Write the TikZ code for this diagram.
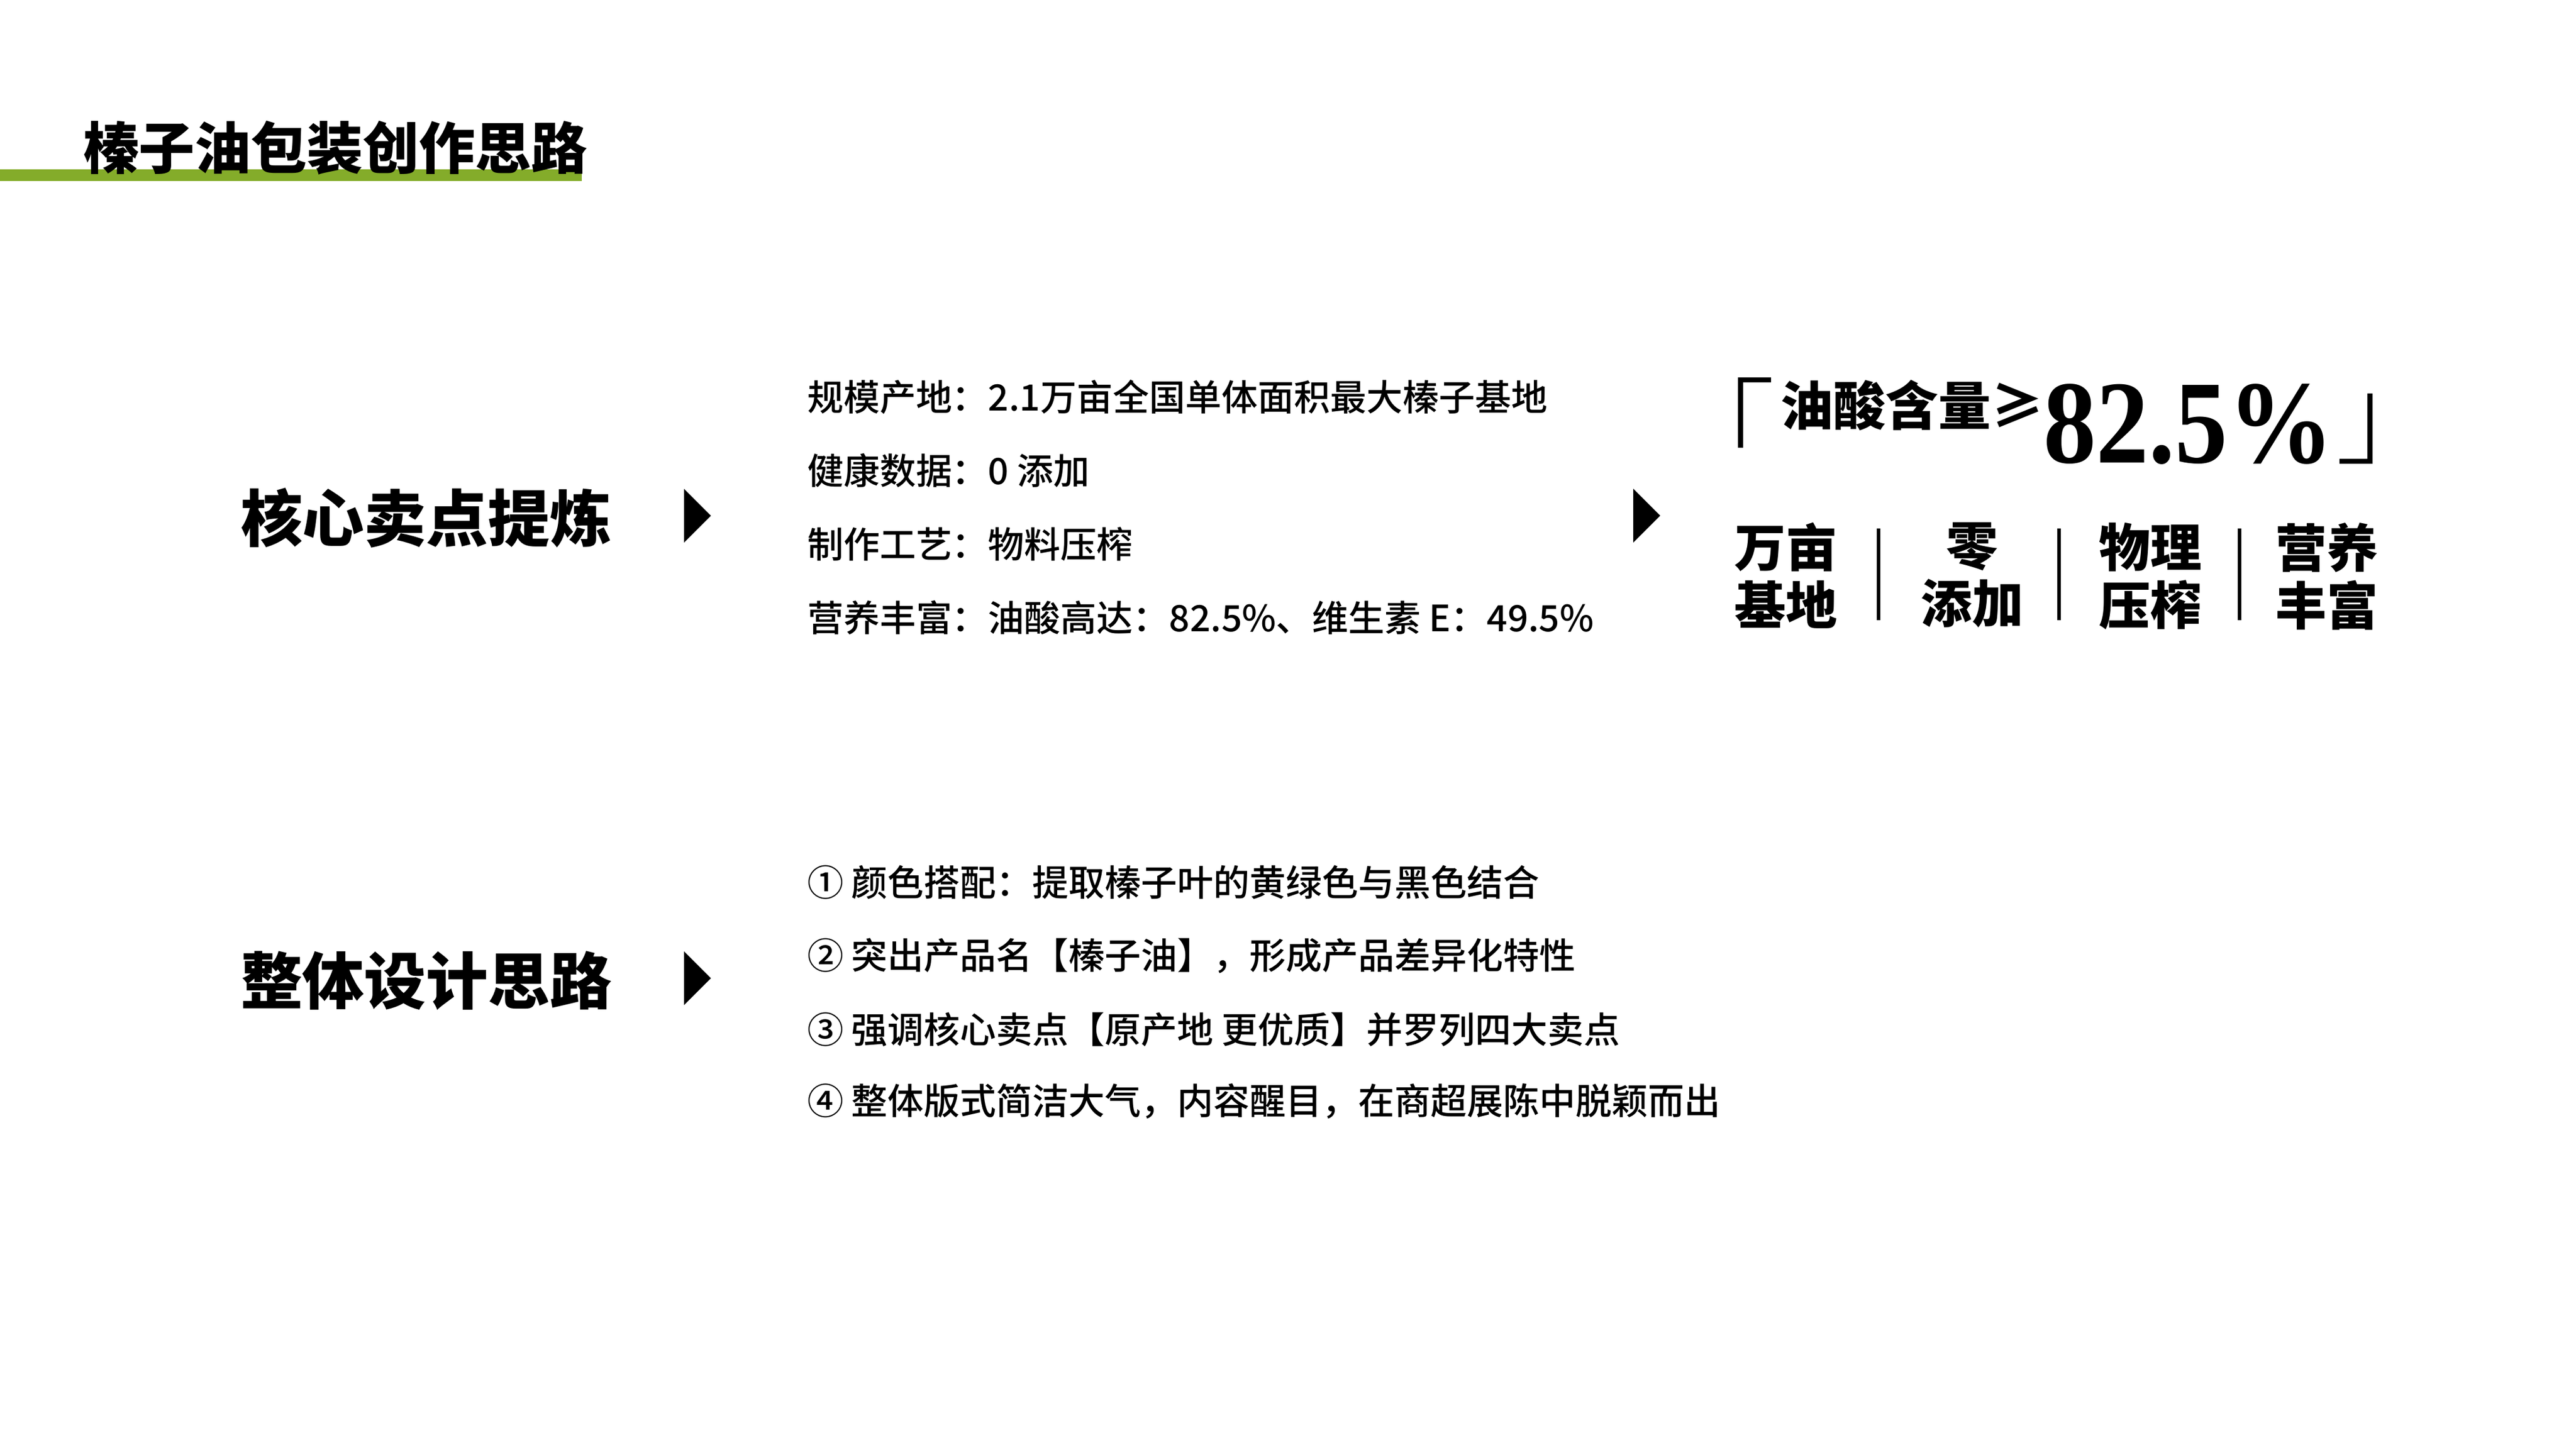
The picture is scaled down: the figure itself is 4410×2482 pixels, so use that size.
\documentclass[tikz,border=0pt]{standalone}
\usepackage{fontspec}
\usepackage{graphicx}
\setmainfont{Noto Sans CJK SC}
\IfFontExistsTF{Noto Sans CJK SC Light}
    {\newfontfamily\heilight{Noto Sans CJK SC Light}}
    {\newcommand\heilight{\mdseries}}
\IfFontExistsTF{Noto Sans CJK SC Medium}
    {\newfontfamily\heimedium{Noto Sans CJK SC Medium}}
    {\newcommand\heimedium{\bfseries}}
\newfontfamily\numserif{Liberation Serif}
\definecolor{hazel-green}{RGB}{132,172,42}
\tikzset{
    page-title/.style = {anchor=west, inner sep=0pt, font=\bfseries\fontsize{9.6pt}{9.6pt}\selectfont},
    section-label/.style = {anchor=west, inner sep=0pt, font=\bfseries\fontsize{10.6pt}{10.6pt}\selectfont},
    list-item/.style = {anchor=west, inner sep=0pt, font=\heimedium\fontsize{6.2pt}{6.2pt}\selectfont},
    claim-head/.style = {anchor=west, inner sep=0pt, font=\bfseries\fontsize{9pt}{9pt}\selectfont},
    claim-number/.style = {anchor=south west, inner sep=0pt, font=\numserif\bfseries\fontsize{20.3pt}{20.3pt}\selectfont},
    claim-bracket/.style = {inner sep=0pt, font=\heilight\fontsize{18.5pt}{18.5pt}\selectfont},
    claim-column/.style = {anchor=north, inner sep=0pt, align=center, font=\bfseries\fontsize{8.8pt}{9.9pt}\selectfont},
    column-rule/.style = {line width=0.6pt},
}

\begin{document}
\begin{tikzpicture}[x=0.1pt, y=-0.1pt]
\useasboundingbox (0,0) rectangle (4410,2482);
\fill[white] (0,0) rectangle (4410,2482);

% title with green underline
\fill[hazel-green] (0,290) rectangle (996,310);
\node[page-title] (title) at (140,253) {榛子油包装创作思路};

% left labels
\node[section-label] (core) at (410,887) {核心卖点提炼};
\node[section-label] (design) at (410,1679) {整体设计思路};
\fill (1171,837) -- (1217,883) -- (1171,929) -- cycle;
\fill (1171,1629) -- (1217,1675) -- (1171,1721) -- cycle;

% selling points
\node[list-item] (scale) at (1380,680) {规模产地：2.1万亩全国单体面积最大榛子基地};
\node[list-item] (health) at (1380,806) {健康数据：0 添加};
\node[list-item] (craft) at (1380,932) {制作工艺：物料压榨};
\node[list-item] (nutri) at (1380,1058) {营养丰富：油酸高达：82.5\%、维生素 E：49.5\%};
\fill (2796,837) -- (2842,883) -- (2796,929) -- cycle;

% design ideas
\node[list-item] (idea1) at (1380,1511) {① 颜色搭配：提取榛子叶的黄绿色与黑色结合};
\node[list-item] (idea2) at (1380,1637) {② 突出产品名【榛子油】，形成产品差异化特性};
\node[list-item] (idea3) at (1380,1763) {③ 强调核心卖点【原产地 更优质】并罗列四大卖点};
\node[list-item] (idea4) at (1380,1886) {④ 整体版式简洁大气，内容醒目，在商超展陈中脱颖而出};

% highlight block
\node[claim-bracket, anchor=north west] (open) at (2852,645) {「};
\node[claim-head] (oleic) at (3046,694) {油酸含量≥};
\node[claim-number] (ratio) at (3496,797) {\scalebox{0.89}[1]{82.5\%}};
\node[claim-bracket, anchor=south east] (close) at (4185,797) {」};

\node[claim-column] (base) at (3057,893) {万亩\\基地};
\node[claim-column] (zero) at (3376,893) {零\\添加};
\node[claim-column] (press) at (3681,893) {物理\\压榨};
\node[claim-column] (rich) at (3983,893) {营养\\丰富};
\draw[column-rule] (3216,905) -- (3216,1062);
\draw[column-rule] (3525,905) -- (3525,1062);
\draw[column-rule] (3834,905) -- (3834,1062);
\end{tikzpicture}
\end{document}
